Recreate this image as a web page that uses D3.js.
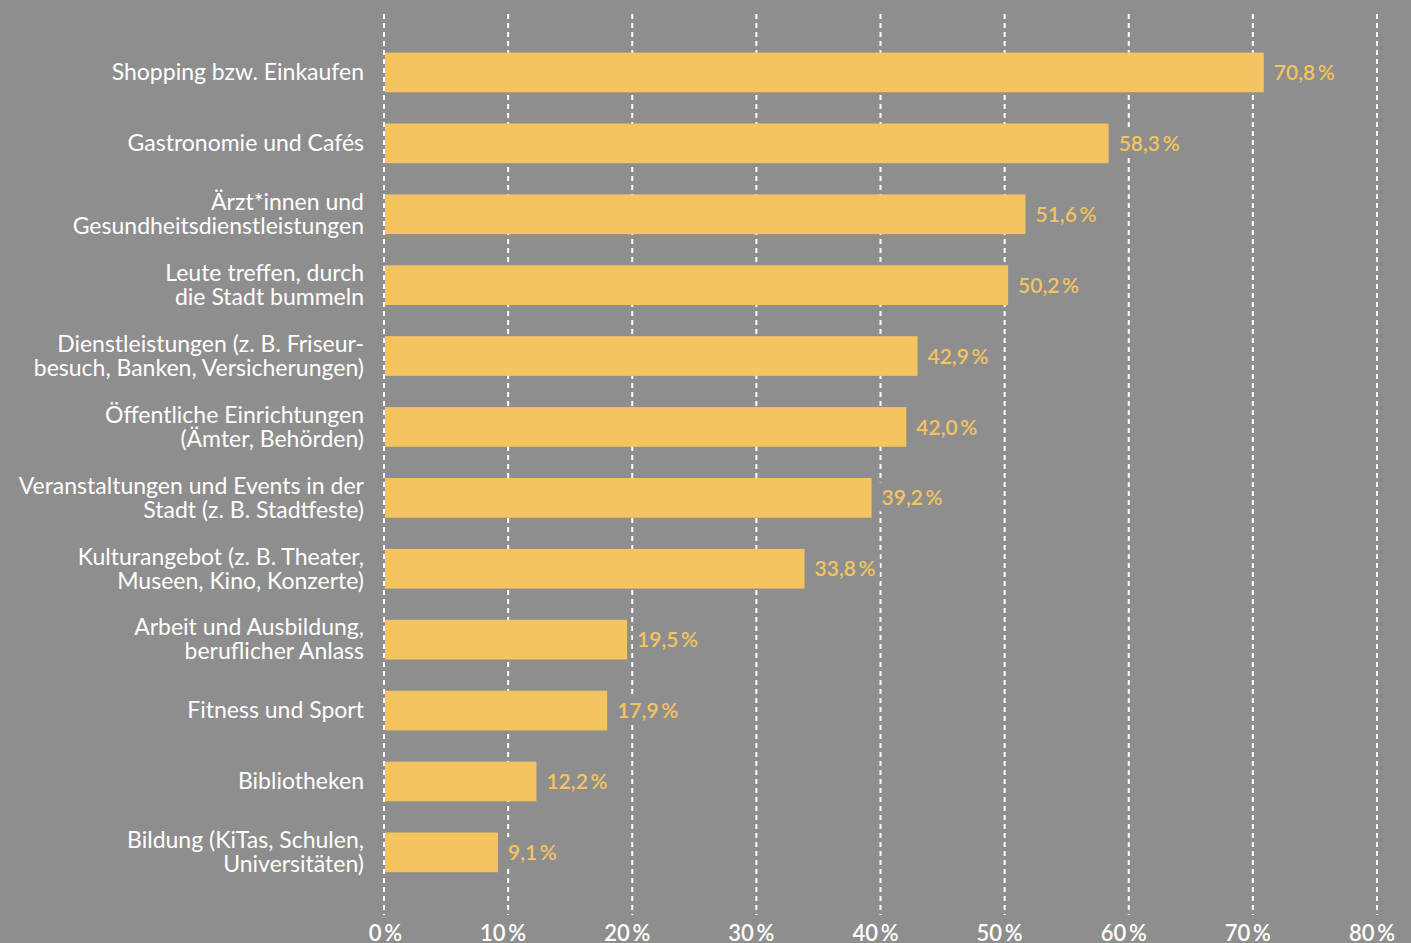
<!DOCTYPE html>
<html>
<head>
<meta charset="utf-8">
<script src="https://cdn.jsdelivr.net/npm/d3@7"></script>
<style>
  html, body { margin: 0; padding: 0; background: #8e8e8e; }
  svg { display: block; }
</style>
</head>
<body>
<div id="chart"></div>
<script>
// Data
var categories = [
  ["Shopping bzw. Einkaufen"],
  ["Gastronomie und Cafés"],
  ["Ärzt*innen und", "Gesundheitsdienstleistungen"],
  ["Leute treffen, durch", "die Stadt bummeln"],
  ["Dienstleistungen (z. B. Friseur-", "besuch, Banken, Versicherungen)"],
  ["Öffentliche Einrichtungen", "(Ämter, Behörden)"],
  ["Veranstaltungen und Events in der", "Stadt (z. B. Stadtfeste)"],
  ["Kulturangebot (z. B. Theater,", "Museen, Kino, Konzerte)"],
  ["Arbeit und Ausbildung,", "beruflicher Anlass"],
  ["Fitness und Sport"],
  ["Bibliotheken"],
  ["Bildung (KiTas, Schulen,", "Universitäten)"]
];
var values = [70.8, 58.3, 51.6, 50.2, 42.9, 42.0, 39.2, 33.8, 19.5, 17.9, 12.2, 9.1];
var ticks = [0, 10, 20, 30, 40, 50, 60, 70, 80];

var width = 1411, height = 943;
var bg = "#8e8e8e", barColor = "#f3c460";
var font = "Lato, 'Open Sans', sans-serif";

var svg = d3.select("#chart").append("svg")
  .attr("width", width)
  .attr("height", height);

svg.append("rect").attr("width", width).attr("height", height).attr("fill", bg);

var x = d3.scaleLinear().domain([0, 80]).range([385, 1378]);
var y = d3.scaleBand()
  .domain(d3.range(values.length))
  .range([37, 37 + 70.9 * values.length])
  .paddingInner(0.44)
  .paddingOuter(0.22);

// gridlines
svg.append("g").selectAll("line")
  .data(ticks)
  .enter().append("line")
  .attr("x1", function(d) { return x(d) - 1; })
  .attr("x2", function(d) { return x(d) - 1; })
  .attr("y1", 14)
  .attr("y2", 915)
  .attr("stroke", "#fff")
  .attr("stroke-width", 2)
  .attr("stroke-dasharray", "5,4");

// bars
svg.append("g").selectAll("rect")
  .data(values)
  .enter().append("rect")
  .attr("x", x(0))
  .attr("y", function(d, i) { return y(i); })
  .attr("width", function(d) { return x(d) - x(0); })
  .attr("height", y.bandwidth())
  .attr("fill", barColor);

// value labels with knock-out background
var fmt = function(v) { return v.toFixed(1).replace(".", ",") + "\u2009%"; };
var vl = svg.append("g").selectAll("g")
  .data(values)
  .enter().append("g")
  .attr("transform", function(d, i) {
    return "translate(" + (x(d) + 10) + "," + (y(i) + y.bandwidth() / 2) + ")";
  });
vl.append("text")
  .attr("dy", "0.36em")
  .attr("font-family", font)
  .attr("font-size", 21)
  .attr("font-weight", 600)
  .attr("fill", barColor)
  .text(fmt)
  .each(function() {
    var b = this.getBBox();
    d3.select(this.parentNode).insert("rect", "text")
      .attr("x", b.x - 4).attr("y", b.y - 2)
      .attr("width", b.width + 8).attr("height", b.height + 4)
      .attr("fill", bg);
  });

// category labels
var cl = svg.append("g").selectAll("text")
  .data(categories)
  .enter().append("text")
  .attr("text-anchor", "end")
  .attr("font-family", font)
  .attr("font-size", 23)
  .attr("font-weight", 400)
  .attr("fill", "#fff")
  .attr("y", function(d, i) { return y(i) + y.bandwidth() / 2; });
cl.selectAll("tspan")
  .data(function(d) { return d.map(function(t, j) { return { t: t, j: j, n: d.length }; }); })
  .enter().append("tspan")
  .attr("x", 364)
  .attr("dy", function(d) {
    if (d.j > 0) return 24;
    return (0.34 * 23 - (d.n - 1) * 12);
  })
  .text(function(d) { return d.t; });

// x axis tick labels
svg.append("g").selectAll("text")
  .data(ticks)
  .enter().append("text")
  .attr("x", function(d) { return x(d) + 17; })
  .attr("y", 941)
  .attr("text-anchor", "end")
  .attr("font-family", font)
  .attr("font-size", 22)
  .attr("font-weight", 600)
  .attr("fill", "#fff")
  .text(function(d) { return d + "\u2009%"; });
</script>
</body>
</html>
